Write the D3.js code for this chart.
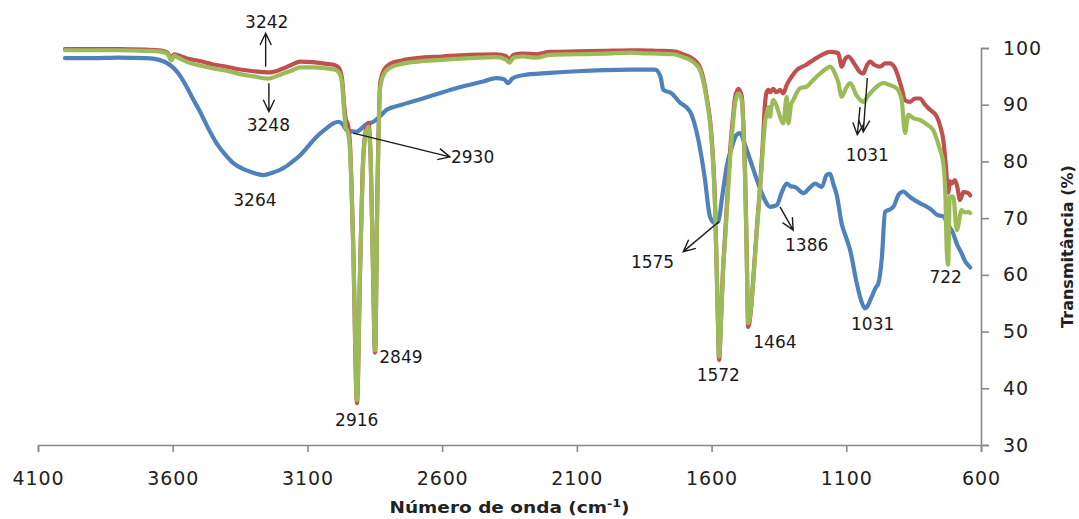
<!DOCTYPE html>
<html>
<head>
<meta charset="utf-8">
<script src="https://cdn.jsdelivr.net/npm/d3@7"></script>
<style>
  body { margin: 0; background: #fff; }
  svg text { font-family: "DejaVu Sans", Verdana, sans-serif; fill: #222; }
  .axis path, .axis line { stroke: #898989; stroke-width: 1.6; }
</style>
</head>
<body>
<svg id="main_svg_container" width="1079" height="519"></svg>
<script>
// Wavenumber (cm-1) and transmittance (%)
var blue_wn = [4000, 3900, 3800, 3700, 3650, 3610, 3580, 3550, 3520, 3499, 3470, 3437, 3405, 3375, 3340, 3313,
  3264, 3230, 3190, 3160, 3127, 3095, 3065, 3030, 3004, 2985, 2970, 2954, 2935, 2917, 2900, 2880, 2855, 2830,
  2806, 2750, 2694, 2630, 2571, 2510, 2447, 2400, 2370, 2355, 2340, 2300, 2200, 2100, 2000, 1900, 1866, 1810,
  1790, 1779, 1748, 1720, 1680, 1649, 1625, 1606, 1590, 1575, 1560, 1544, 1525, 1507, 1494, 1478, 1457, 1430,
  1408, 1383, 1358, 1340, 1321, 1305, 1290, 1259, 1235, 1216, 1191, 1173, 1160, 1148, 1135, 1117, 1100, 1086,
  1061, 1045, 1031, 1020, 1006, 990, 981, 968, 956, 940, 925, 905, 888, 870, 857, 840, 826, 801, 785, 764,
  740, 722, 703, 690, 672, 660, 647, 640];
var blue_t = [98.2, 98.2, 98.3, 98.2, 97.9, 97.0, 95.6, 93.3, 90.6, 88.8, 86.0, 83.2, 81.2, 79.7, 78.7, 78.2,
  77.6, 78.0, 78.8, 79.8, 81.1, 82.8, 84.4, 85.8, 86.7, 87.0, 86.6, 85.5, 85.3, 85.2, 85.8, 86.6, 87.0, 88.0,
  89.1, 90.0, 90.8, 91.7, 92.6, 93.4, 94.1, 94.7, 94.5, 93.8, 94.6, 95.2, 95.6, 95.9, 96.1, 96.2, 96.2, 96.2,
  95.0, 92.6, 92.0, 90.5, 88.8, 83.8, 77.0, 70.3, 69.2, 69.4, 74.0, 79.1, 82.5, 84.7, 85.0, 83.2, 80.3, 76.5,
  73.8, 72.0, 72.3, 74.5, 76.1, 75.6, 75.5, 74.4, 75.4, 76.1, 75.5, 77.6, 77.8, 76.0, 74.0, 69.0, 66.5, 64.4,
  58.5, 55.5, 54.1, 54.6, 56.1, 57.8, 58.5, 63.0, 71.1, 71.5, 72.0, 74.2, 74.7, 74.0, 73.5, 73.0, 72.6, 72.0,
  71.5, 70.6, 70.3, 68.8, 67.3, 65.5, 63.8, 62.5, 61.7, 61.3];

var red_wn = [4000, 3900, 3800, 3700, 3650, 3620, 3605, 3595, 3580, 3550, 3500, 3450, 3400, 3350, 3300, 3242,
  3200, 3160, 3127, 3080, 3030, 3000, 2985, 2972, 2964, 2958, 2950, 2942, 2930, 2916, 2905, 2895, 2885, 2874,
  2865, 2857, 2849, 2840, 2830, 2815, 2793, 2750, 2694, 2600, 2500, 2400, 2365, 2350, 2335, 2300, 2250, 2200,
  2100, 2000, 1900, 1866, 1800, 1742, 1700, 1680, 1660, 1643, 1630, 1618, 1600, 1587, 1578, 1572, 1565, 1558,
  1550, 1540, 1531, 1520, 1513, 1501, 1488, 1482, 1476, 1470, 1464, 1458, 1451, 1439, 1430, 1420, 1410, 1402,
  1395, 1389, 1383, 1371, 1360, 1346, 1334, 1321, 1305, 1284, 1250, 1222, 1190, 1160, 1130, 1117, 1105, 1092,
  1070, 1050, 1037, 1025, 1012, 995, 975, 955, 938, 920, 907, 895, 882, 863, 845, 826, 808, 789, 764, 750,
  740, 730, 722, 715, 709, 697, 688, 678, 665, 647, 640];
var red_t = [99.8, 99.8, 99.8, 99.7, 99.6, 99.2, 98.2, 98.9, 98.7, 98.2, 97.7, 97.1, 96.7, 96.2, 95.9, 95.7,
  96.2, 97.0, 97.6, 97.5, 97.2, 97.0, 96.6, 94.8, 90.0, 87.5, 86.5, 83.0, 65.0, 37.4, 60.0, 78.5, 85.0, 86.8,
  80.0, 62.0, 46.3, 75.5, 93.8, 96.2, 97.2, 97.8, 98.2, 98.5, 98.8, 98.9, 98.6, 98.0, 98.8, 99.0, 98.9, 99.3,
  99.4, 99.5, 99.6, 99.6, 99.5, 99.4, 98.8, 98.4, 97.7, 96.6, 94.5, 91.3, 84.3, 72.5, 55.0, 45.0, 52.0, 60.5,
  66.8, 75.0, 82.0, 88.0, 91.2, 92.8, 91.5, 86.5, 78.5, 65.0, 50.8, 52.0, 55.5, 63.5, 69.5, 75.5, 83.0, 90.0,
  92.3, 92.6, 92.2, 92.8, 92.2, 92.6, 92.0, 93.5, 94.8, 96.1, 97.0, 97.9, 98.8, 99.3, 99.1, 96.7, 98.0, 98.5,
  97.2, 95.8, 95.5, 96.8, 97.6, 97.0, 96.7, 97.3, 97.3, 96.5, 94.9, 93.0, 90.8, 90.5, 91.1, 91.1, 90.0, 89.1,
  87.9, 86.0, 83.8, 79.0, 74.5, 76.5, 76.1, 76.7, 75.5, 73.2, 74.6, 74.4, 74.0];

var green_wn = [4000, 3900, 3800, 3700, 3650, 3620, 3605, 3595, 3580, 3550, 3500, 3450, 3400, 3350, 3300, 3248,
  3200, 3160, 3127, 3080, 3030, 3000, 2985, 2972, 2964, 2958, 2950, 2942, 2930, 2916, 2905, 2895, 2885, 2874,
  2865, 2857, 2849, 2840, 2830, 2815, 2793, 2750, 2694, 2600, 2500, 2400, 2365, 2350, 2335, 2300, 2250, 2200,
  2100, 2000, 1900, 1866, 1800, 1742, 1700, 1680, 1660, 1643, 1630, 1618, 1600, 1587, 1578, 1572, 1565, 1558,
  1550, 1540, 1531, 1520, 1513, 1501, 1488, 1482, 1476, 1470, 1464, 1458, 1451, 1439, 1430, 1420, 1410, 1402,
  1395, 1389, 1383, 1378, 1371, 1360, 1350, 1346, 1334, 1321, 1315, 1305, 1297, 1272, 1247, 1222, 1197, 1173,
  1160, 1142, 1130, 1117, 1100, 1086, 1060, 1037, 1020, 1000, 963, 940, 913, 895, 882, 870, 850, 826, 800,
  777, 755, 740, 732, 727, 722, 716, 703, 690, 672, 660, 647, 640];
var green_t = [99.6, 99.6, 99.6, 99.5, 99.4, 99.0, 97.8, 98.6, 98.3, 97.6, 96.9, 96.4, 96.0, 95.4, 95.0, 94.6,
  95.3, 96.0, 96.6, 96.6, 96.4, 96.2, 95.8, 94.0, 89.0, 86.0, 85.2, 82.0, 65.0, 37.9, 60.0, 78.0, 84.5, 86.1,
  80.0, 62.0, 46.7, 75.0, 93.0, 95.5, 96.5, 97.2, 97.6, 97.9, 98.2, 98.4, 98.0, 97.4, 98.3, 98.5, 98.3, 98.8,
  98.9, 99.0, 99.2, 99.1, 99.0, 98.9, 98.3, 97.9, 97.2, 96.1, 94.0, 90.8, 83.8, 72.0, 55.0, 45.6, 52.0, 60.0,
  66.1, 74.0, 80.8, 87.0, 90.2, 92.0, 90.8, 86.0, 77.9, 65.0, 51.5, 52.5, 55.6, 63.2, 69.0, 75.0, 82.0, 86.7,
  88.5, 89.6, 87.9, 89.5, 90.8, 90.0, 88.5, 87.9, 86.7, 91.4, 86.7, 90.0, 90.8, 92.9, 93.2, 94.4, 95.5, 96.4,
  96.7, 95.5, 94.0, 91.4, 93.0, 93.8, 91.5, 90.5, 91.5, 92.6, 93.8, 93.5, 92.9, 91.0, 85.0, 88.2, 87.6, 87.3,
  86.5, 85.5, 82.5, 79.7, 74.0, 64.0, 61.8, 73.8, 73.8, 67.9, 71.4, 71.0, 71.1, 70.9];

var series_colors = ["#4F81BD", "#C0504D", "#9BBB59"];

// Axis ticks
var x_ticks = [4100, 3600, 3100, 2600, 2100, 1600, 1100, 600];
var y_ticks = [30, 40, 50, 60, 70, 80, 90, 100];

// Peak labels: text, wavenumber, transmittance of the label centre
var label_text = ["3242", "3248", "3264", "2930", "2916", "2849", "1575", "1386", "1572", "1464", "1031", "1031", "722"];
var label_wn   = [3251, 3245, 3295, 2487, 2917, 2753, 1819, 1247, 1575, 1365, 1022, 1002, 731];
var label_t    = [104.6, 86.4, 73.2, 80.8, 34.4, 45.6, 62.3, 65.3, 42.3, 48.2, 81.1, 51.3, 59.7];

// Arrows: start (wn, T) -> tip (wn, T)
var arrow_from_wn = [3255, 3243, 2930, 1572, 1346, 1022, 1049];
var arrow_from_t  = [96.7, 93.8, 85.0, 69.4, 72.0, 94.7, 89.6];
var arrow_to_wn   = [3255, 3243, 2571, 1705, 1297, 1037, 1059];
var arrow_to_t    = [102.6, 88.8, 80.8, 64.1, 67.9, 85.2, 84.7];

var plot_left = 38, plot_right = 981, plot_top = 48, plot_bottom = 445;

var x = d3.scaleLinear().domain([4100, 600]).range([plot_left, plot_right]);
var y = d3.scaleLinear().domain([30, 100]).range([plot_bottom, plot_top]);

var svg = d3.select("#main_svg_container");

drawAxes();
drawSeries();
drawAnnotations();


function drawAxes() {
  var x_axis = d3.axisBottom(x).tickValues(x_ticks).tickSize(7).tickSizeOuter(7).tickPadding(20)
      .tickFormat(d3.format("d"));
  svg.append("g")
      .attr("class", "axis")
      .attr("transform", "translate(0," + plot_bottom + ")")
      .call(x_axis)
      .selectAll("text")
      .style("font-size", "19px")
      .style("letter-spacing", "0.9px");

  var y_axis = d3.axisRight(y).tickValues(y_ticks).tickSize(8).tickSizeOuter(8).tickPadding(14);
  svg.append("g")
      .attr("class", "axis")
      .attr("transform", "translate(" + plot_right + ",0)")
      .call(y_axis)
      .selectAll("text")
      .style("font-size", "19px")
      .style("letter-spacing", "0.9px");

  svg.selectAll(".axis text").style("fill", "#222");

  // Axis titles
  svg.append("text")
      .attr("x", (plot_left + plot_right) / 2)
      .attr("y", 513)
      .attr("text-anchor", "middle")
      .style("font-size", "16px")
      .style("font-weight", "bold")
      .attr("textLength", 240)
      .attr("lengthAdjust", "spacingAndGlyphs")
      .html("Número de onda (cm<tspan baseline-shift='super' font-size='11px'>-1</tspan>)");

  svg.append("text")
      .attr("transform", "translate(1073," + (plot_top + plot_bottom) / 2 + ") rotate(-90)")
      .attr("text-anchor", "middle")
      .style("font-size", "16px")
      .style("font-weight", "bold")
      .text("Transmitância (%)");
}


function drawSeries() {
  var all_series = [
    d3.zip(blue_wn, blue_t),
    d3.zip(red_wn, red_t),
    d3.zip(green_wn, green_t)
  ];

  var line = d3.line()
      .x(function(d) { return x(d[0]); })
      .y(function(d) { return y(d[1]); })
      .curve(d3.curveMonotoneX);

  svg.append("g")
      .selectAll("path")
      .data(all_series)
      .join("path")
      .attr("d", line)
      .attr("fill", "none")
      .attr("stroke", function(d, i) { return series_colors[i]; })
      .attr("stroke-width", 4.2)
      .attr("stroke-linejoin", "round")
      .attr("stroke-linecap", "round");
}


function drawAnnotations() {
  var g = svg.append("g");

  // arrows with open heads
  for (var i = 0; i < arrow_from_wn.length; i++) {
    var x0 = x(arrow_from_wn[i]), y0 = y(arrow_from_t[i]);
    var x1 = x(arrow_to_wn[i]), y1 = y(arrow_to_t[i]);
    var ang = Math.atan2(y1 - y0, x1 - x0);
    var head = 13, spread = 0.45;
    var p = "M" + x0 + "," + y0 + "L" + x1 + "," + y1 +
      "M" + (x1 - head * Math.cos(ang - spread)) + "," + (y1 - head * Math.sin(ang - spread)) +
      "L" + x1 + "," + y1 +
      "L" + (x1 - head * Math.cos(ang + spread)) + "," + (y1 - head * Math.sin(ang + spread));
    g.append("path")
        .attr("d", p)
        .attr("fill", "none")
        .attr("stroke", "#1a1a1a")
        .attr("stroke-width", 1.4);
  }

  g.selectAll("text")
      .data(label_text)
      .join("text")
      .attr("x", function(d, i) { return x(label_wn[i]); })
      .attr("y", function(d, i) { return y(label_t[i]); })
      .attr("dy", "0.36em")
      .attr("text-anchor", "middle")
      .style("font-size", "17px")
      .style("fill", "#1a1a1a")
      .text(function(d) { return d; });
}
</script>
</body>
</html>
